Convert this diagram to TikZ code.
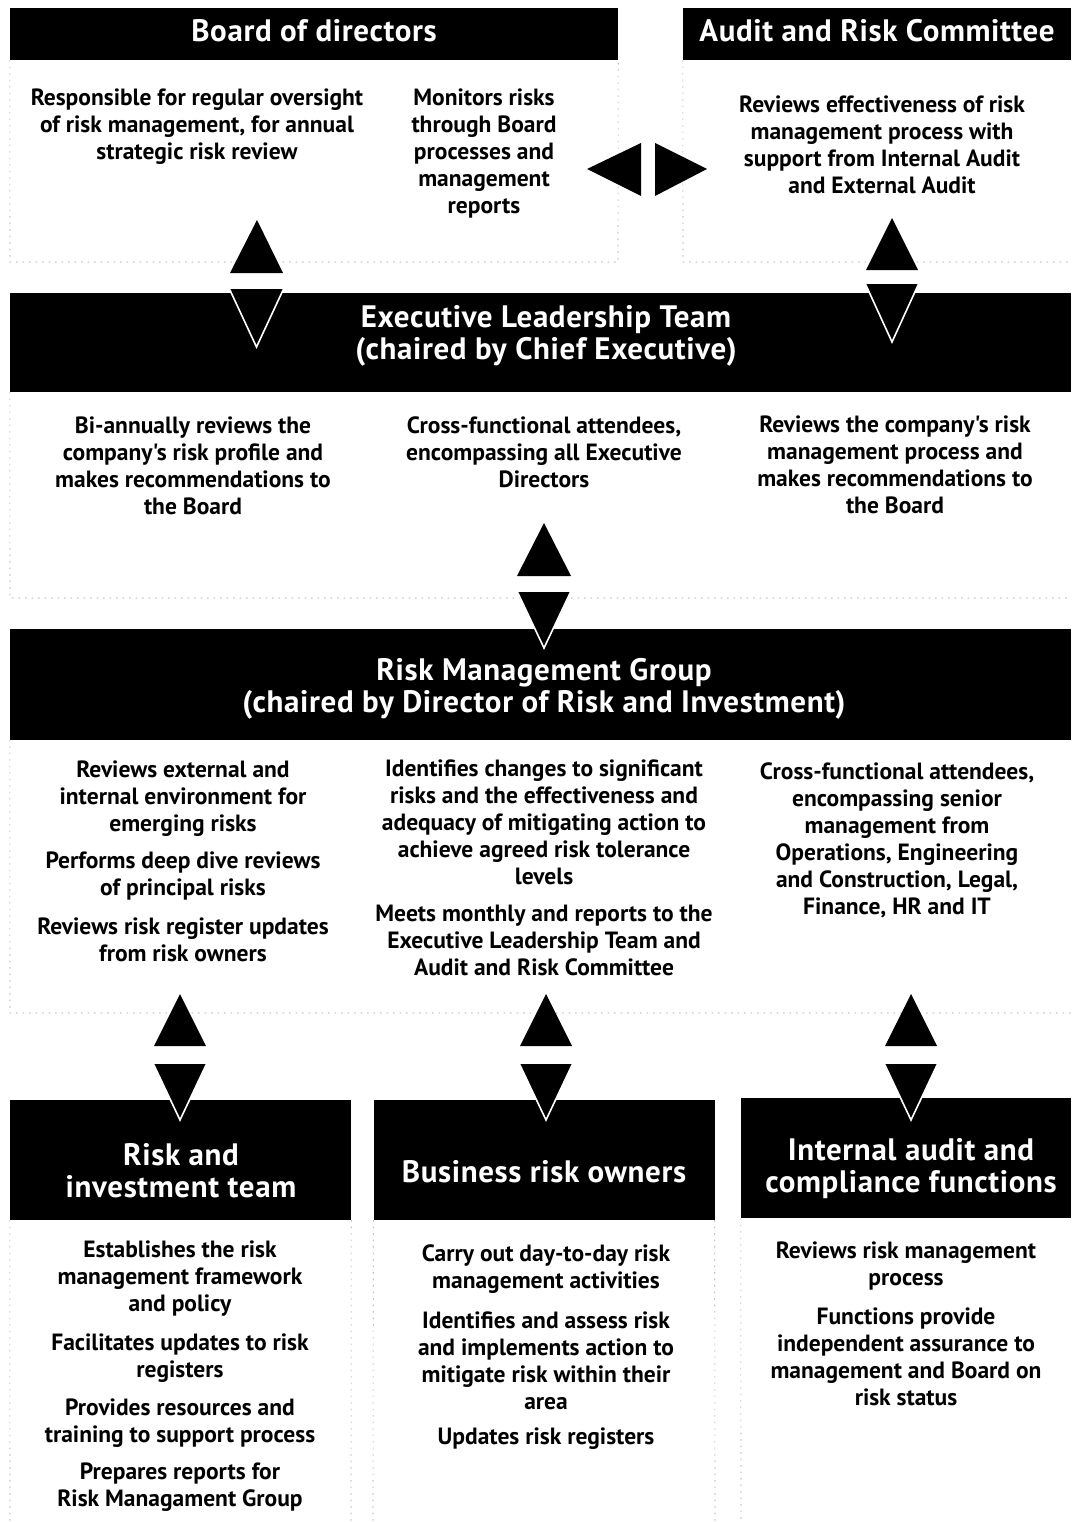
\documentclass[tikz,border=0pt]{standalone}
\usepackage{fontspec}
\newfontfamily\bodyfont{PT Sans}
\newfontfamily\headfont[LetterSpace=2]{PT Sans}
\begin{document}
\begin{tikzpicture}[x=1pt,y=-1pt,
  bar/.style={fill=black,inner sep=0pt},
  head/.style={text=white,font=\headfont\bfseries\fontsize{31}{32}\selectfont,align=center,inner sep=0pt},
  txt/.style={font=\bodyfont\bfseries\fontsize{23.5}{27}\selectfont,align=center,inner sep=0pt},
  panel/.style={draw=black!40,line width=0.6pt,dash pattern=on 1.5pt off 5pt},
  tri/.style={fill=black},
  trib/.style={fill=black,draw=white,line width=1.6pt,line join=miter}]
\useasboundingbox (0,0) rectangle (1071,1522);
\fill[white] (0,0) rectangle (1071,1522);

% ---------- bars ----------
\node[bar,minimum width=608,minimum height=52] (bod) at (314,34) {};
\node[bar,minimum width=388,minimum height=52] (arc) at (877,34) {};
\node[bar,minimum width=1061,minimum height=99] (elt) at (540.5,342.5) {};
\node[bar,minimum width=1061,minimum height=111] (rmg) at (540.5,684) {};
\node[bar,minimum width=341,minimum height=120] (rit) at (180.5,1160) {};
\node[bar,minimum width=341,minimum height=120] (bro) at (544,1160) {};
\node[bar,minimum width=330,minimum height=120] (iac) at (906,1158) {};

\node[head] (bodT) at (314,31) {Board of directors};
\node[head] (arcT) at (877,31) {Audit and Risk Committee};
\node[head] (eltT) at (546,336) {Executive Leadership Team\\(chaired by Chief Executive)};
\node[head] (rmgT) at (544,689) {Risk Management Group\\(chaired by Director of Risk and Investment)};
\node[head] (ritT) at (181,1171) {Risk and\\investment team};
\node[head] (broT) at (544,1172) {Business risk owners};
\node[head] (iacT) at (911,1169) {Internal audit and\\compliance functions};

% ---------- dotted panels ----------
\draw[panel] (bod.south west) -- (10,262) -- (618,262) -- (bod.south east);
\draw[panel] (arc.south west) -- (683,262) -- (1071,262);
\draw[panel] (elt.south west) -- (10,598) -- (1071,598);
\draw[panel] (rmg.south west) -- (10,1013) -- (1071,1013);
\draw[panel] (rit.south west) -- (10,1522);
\draw[panel] (rit.south east) -- (351,1522);
\draw[panel] (bro.south west) -- (373,1522);
\draw[panel] (bro.south east) -- (715,1522);
\draw[panel] (iac.south west) -- (741,1522);

% ---------- texts ----------
\node[txt] (b1) at (197,127) {Responsible for regular oversight\\of risk management, for annual\\strategic risk review};
\node[txt] (b2) at (484,153.5) {Monitors risks\\through Board\\processes and\\management\\reports};
\node[txt] (a1) at (882,144.5) {Reviews effectiveness of risk\\management process with\\support from Internal Audit\\and External Audit};

\node[txt] (e1) at (193,465.5) {Bi-annually reviews the\\company's risk profile and\\makes recommendations to\\the Board};
\node[txt] (e2) at (544,452) {Cross-functional attendees,\\encompassing all Executive\\Directors};
\node[txt] (e3) at (895,465) {Reviews the company's risk\\management process and\\makes recommendations to\\the Board};

\node[txt] (r1) at (183,799) {Reviews external and\\internal environment for\\emerging risks};
\node[txt] (r2) at (183,875.5) {Performs deep dive reviews\\of principal risks};
\node[txt] (r3) at (183,940) {Reviews risk register updates\\from risk owners};
\node[txt] (r4) at (544,822) {Identifies changes to significant\\risks and the effectiveness and\\adequacy of mitigating action to\\achieve agreed risk tolerance\\levels};
\node[txt] (r5) at (544,940) {Meets monthly and reports to the\\Executive Leadership Team  and\\Audit and Risk Committee};
\node[txt] (r6) at (897,840.5) {Cross-functional attendees,\\encompassing senior\\management from\\Operations, Engineering\\and Construction, Legal,\\Finance, HR and IT};

\node[txt] (t1) at (180,1279) {Establishes the risk\\management framework\\and policy};
\node[txt] (t2) at (180,1358.5) {Facilitates updates to risk\\registers};
\node[txt] (t3) at (180,1423.5) {Provides resources and\\training to support process};
\node[txt] (t4) at (180,1487.5) {Prepares reports for\\Risk Managament Group};
\node[txt] (o1) at (546,1269.5) {Carry out day-to-day risk\\management activities};
\node[txt] (o2) at (546,1361) {Identifies and assess risk\\and implements action to\\mitigate risk within their\\area};
\node[txt] (o3) at (546,1439) {Updates risk registers};
\node[txt] (i1) at (906,1265.5) {Reviews risk management\\process};
\node[txt] (i2) at (906,1357) {Functions provide\\independent assurance to\\management and Board on\\risk status};

% ---------- arrows (triangles) ----------
% between board and ARC
\fill[tri] (587,169) -- (641,143) -- (641,196) -- cycle;
\fill[tri] (707,169) -- (655,143) -- (655,196) -- cycle;
% board <-> ELT
\fill[tri] (257,220) -- (283,273) -- (230,273) -- cycle;
\filldraw[trib] (229,288) -- (284,288) -- (256.5,347) -- cycle;
% ARC <-> ELT
\fill[tri] (892,218) -- (918,270) -- (866,270) -- cycle;
\filldraw[trib] (865,283) -- (919,283) -- (892,342) -- cycle;
% ELT <-> RMG
\fill[tri] (544,523) -- (571,576) -- (517,576) -- cycle;
\filldraw[trib] (517,591) -- (571,591) -- (544,648) -- cycle;
% RMG <-> bottom
\foreach \cx in {180,546,911}{
  \fill[tri] (\cx,994) -- (\cx+26,1046) -- (\cx-26,1046) -- cycle;
  \filldraw[trib] (\cx-27,1063) -- (\cx+27,1063) -- (\cx,1120) -- cycle;
}
\end{tikzpicture}
\end{document}
